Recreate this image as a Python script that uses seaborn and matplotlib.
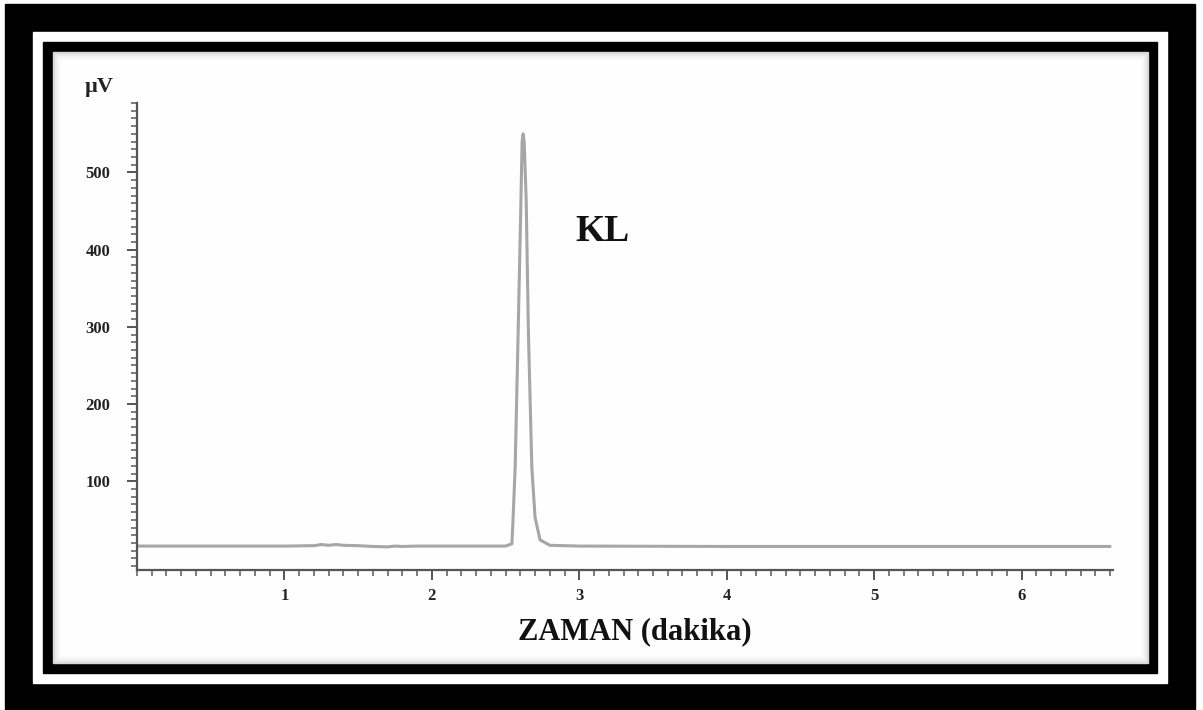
import matplotlib
matplotlib.use("Agg")
import matplotlib.pyplot as plt
from matplotlib.patches import Rectangle
from matplotlib.ticker import FixedLocator, MultipleLocator
import seaborn as sns
import pandas as pd

# chromatogram (time in minutes, signal in microvolts)
zaman = [0.0, 0.5, 1.0, 1.2, 1.25, 1.3, 1.35, 1.4, 1.5, 1.6, 1.7, 1.75, 1.8, 1.9,
         2.0, 2.3, 2.5, 2.543, 2.551, 2.565, 2.585, 2.604, 2.612, 2.619, 2.626, 2.64,
         2.655, 2.678, 2.70, 2.734, 2.80, 3.0, 4.0, 5.0, 6.0, 6.6]
sinyal = [16, 16, 16, 16.5, 18, 17, 18, 17, 16.5, 15.5, 15, 16, 15.5, 16,
          16, 16, 16, 19, 53, 118, 291, 463, 540, 550, 540, 463,
          291, 118, 53, 24, 17, 16, 15.5, 15.5, 15.5, 15.5]

y_major = [100, 200, 300, 400, 500]
x_major = [1, 2, 3, 4, 5, 6]

df = pd.DataFrame({"zaman": zaman, "sinyal": sinyal})

sns.set_style("ticks")
plt.rcParams['font.family'] = ['Liberation Serif', 'DejaVu Serif']

W, H = 1203, 710
fig = plt.figure(figsize=(W / 100, H / 100), dpi=100)

def px_rect(x0, y0, x1, y1, color):
    # rectangle given in pixel coords (top-left origin)
    fig.patches.append(Rectangle((x0 / W, 1 - y1 / H), (x1 - x0) / W, (y1 - y0) / H,
                                 transform=fig.transFigure, color=color, zorder=-10))

# picture frame
px_rect(5, 4, 1195, 712, "black")
px_rect(33, 32, 1167, 683, "white")
px_rect(43, 42, 1157, 673, "black")
px_rect(53, 52, 1148, 663, "#d8d8d8")
for i, c in enumerate(["#e8e8e8", "#f3f3f3", "#fafafa", "#fefefe"]):
    d = 2 + i * 2
    px_rect(53 + d, 52 + d, 1148 - d, 663 - d, c)

ax = fig.add_axes([137 / W, 1 - 570 / H, (1113 - 137) / W, (570 - 103) / H])
ax.patch.set_alpha(0)

sns.lineplot(data=df, x="zaman", y="sinyal", ax=ax, color="#a6a6a6", linewidth=2.2)

ax.set_xlim(0, 6.62)
ax.set_ylim(-15, 590)
sns.despine(ax=ax)
for s in ["left", "bottom"]:
    ax.spines[s].set_color("#555555")
    ax.spines[s].set_linewidth(1.6)

ax.yaxis.set_major_locator(FixedLocator(y_major))
ax.yaxis.set_minor_locator(MultipleLocator(10))
ax.xaxis.set_major_locator(FixedLocator(x_major))
ax.xaxis.set_minor_locator(MultipleLocator(0.1))
ax.tick_params(axis="both", which="both", left=True, bottom=True)
ax.tick_params(axis="both", which="major", direction="out", length=7, width=1.4,
               color="#555555", labelsize=12, labelcolor="#222222")
ax.tick_params(axis="both", which="minor", direction="out", length=4, width=1.2,
               color="#666666")
ax.tick_params(axis="y", which="major", pad=12)
ax.tick_params(axis="x", which="major", pad=6)
for lab in ax.get_xticklabels() + ax.get_yticklabels():
    lab.set_fontweight("bold")

ax.set_xlabel("ZAMAN (dakika)", fontsize=22, fontweight="bold", color="#111111")
ax.xaxis.set_label_coords((635 - 137) / (1113 - 137), -(617 - 570) / (570 - 103))
ax.set_ylabel("")

fig.text(99 / W, 1 - 87 / H, "µV", fontsize=16, fontweight="bold", color="#222222",
         ha="center", va="center")
ax.text(3.155, 423, "KL", fontsize=27, fontweight="bold", color="#111111",
        ha="center", va="center")

fig.savefig("out.png", dpi=100)
